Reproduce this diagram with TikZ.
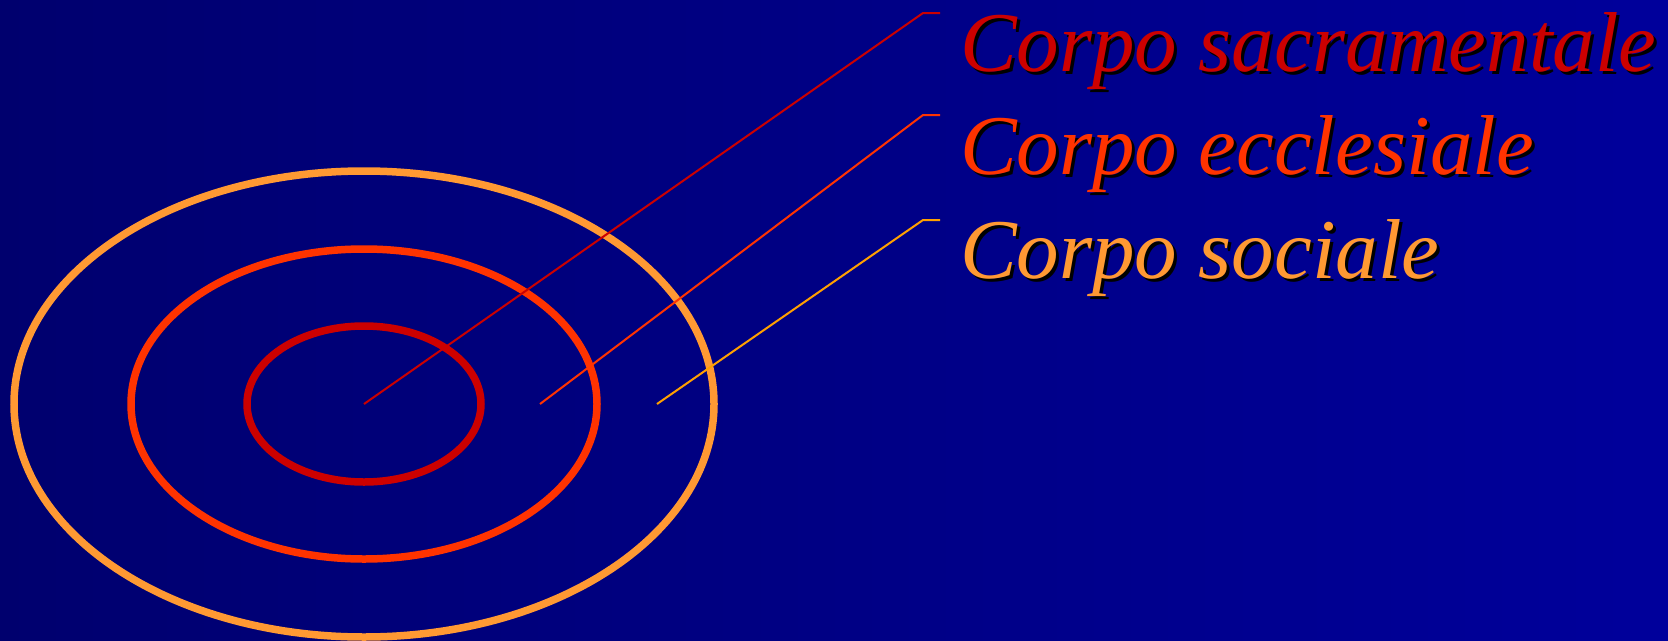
\documentclass[tikz,border=0pt]{standalone}
\usepackage{fontspec}
\setmainfont{Liberation Serif}
\usetikzlibrary{calc}
\definecolor{bgleft}{RGB}{0,0,110}
\definecolor{bgright}{RGB}{0,0,155}
\definecolor{csac}{RGB}{204,0,0}
\definecolor{cecc}{RGB}{255,51,0}
\definecolor{csoc}{RGB}{255,153,51}
\definecolor{csocline}{RGB}{255,160,0}
\tikzset{
  ring/.style={line width=7.5pt},
  leader/.style={line width=2pt},
  lbl/.style={anchor=base west, inner sep=0pt, font=\fontsize{85}{100}\selectfont\itshape},
  shadowlbl/.style={lbl, text=black},
}
\begin{document}
\begin{tikzpicture}[x=1pt,y=-1pt]
\useasboundingbox (0,0) rectangle (1668,640);
\shade[left color=bgleft, right color=bgright] (0,0) rectangle (1668,640);
\coordinate (ctr) at (364,404);
% rings
\draw[ring, csoc] (ctr) ellipse [x radius=350pt, y radius=233pt];
\draw[ring, cecc] (ctr) ellipse [x radius=233pt, y radius=155pt];
\draw[ring, csac] (ctr) ellipse [x radius=117pt, y radius=78pt];
% labels with shadows
\node[shadowlbl] (s1) at (963,74) {Corpo sacramentale};
\node[shadowlbl] (s2) at (963,177) {Corpo ecclesiale};
\node[shadowlbl] (s3) at (963,281) {Corpo sociale};
\node[lbl, text=csac] (t1) at (960,71) {Corpo sacramentale};
\node[lbl, text=cecc] (t2) at (960,174) {Corpo ecclesiale};
\node[lbl, text=csoc] (t3) at (960,278) {Corpo sociale};
% leader points
\coordinate (a1) at (364,404);
\coordinate (a2) at (540,404);
\coordinate (a3) at (657,404);
\coordinate (k1) at (923,13);
\coordinate (k2) at (923,115);
\coordinate (k3) at (923,220);
\coordinate (e1) at (940,13);
\coordinate (e2) at (940,115);
\coordinate (e3) at (940,220);
\draw[leader, csac] (a1) -- (k1) -- (e1);
\draw[leader, cecc] (a2) -- (k2) -- (e2);
\draw[leader, csocline] (a3) -- (k3) -- (e3);
\end{tikzpicture}
\end{document}
